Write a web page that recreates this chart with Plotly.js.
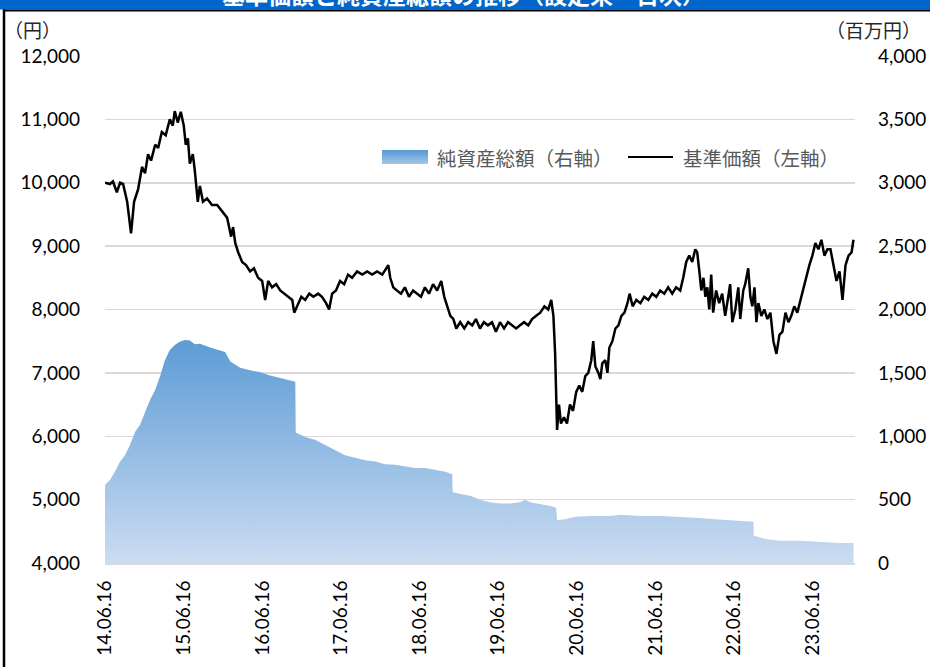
<!DOCTYPE html>
<html><head><meta charset="utf-8">
<script src="https://cdn.plot.ly/plotly-3.0.1.min.js"></script>
<style>html,body{margin:0;padding:0;background:#fff;}#chart{width:930px;height:667px;}</style>
</head><body><div id="chart"></div>
<script>
// 基準価額 (left axis, 円)
const navDates = ["2014-06-16","2014-07-09","2014-07-23","2014-08-10","2014-08-25","2014-09-08","2014-09-27","2014-10-15","2014-10-29","2014-11-17","2014-12-05","2014-12-19","2015-01-02","2015-01-16","2015-02-04","2015-02-18","2015-03-07","2015-03-25","2015-04-13","2015-04-27","2015-05-06","2015-05-20","2015-06-03","2015-06-17","2015-06-26","2015-07-06","2015-07-15","2015-07-29","2015-08-07","2015-08-21","2015-08-31","2015-09-14","2015-10-03","2015-10-26","2015-11-19","2015-12-12","2016-01-04","2016-01-23","2016-02-01","2016-02-11","2016-02-25","2016-03-14","2016-04-01","2016-04-20","2016-05-08","2016-05-27","2016-06-15","2016-06-29","2016-07-13","2016-07-31","2016-08-19","2016-09-07","2016-09-25","2016-10-14","2016-11-02","2016-11-11","2016-11-25","2016-12-14","2017-01-01","2017-01-20","2017-02-08","2017-03-02","2017-03-20","2017-04-08","2017-04-22","2017-05-06","2017-05-24","2017-06-12","2017-07-01","2017-07-19","2017-08-07","2017-08-30","2017-09-23","2017-10-16","2017-11-08","2017-12-01","2017-12-25","2018-01-12","2018-01-22","2018-01-31","2018-02-14","2018-03-03","2018-03-22","2018-04-09","2018-04-28","2018-05-17","2018-06-04","2018-06-23","2018-07-11","2018-07-30","2018-08-18","2018-09-06","2018-09-25","2018-10-09","2018-10-23","2018-11-06","2018-11-20","2018-12-04","2018-12-22","2019-01-10","2019-01-28","2019-02-16","2019-03-05","2019-03-24","2019-04-11","2019-04-30","2019-05-19","2019-06-06","2019-06-25","2019-07-14","2019-08-01","2019-08-20","2019-09-08","2019-09-26","2019-10-15","2019-11-03","2019-11-21","2019-12-10","2019-12-29","2020-01-17","2020-02-04","2020-02-18","2020-02-28","2020-03-07","2020-03-16","2020-03-25","2020-04-03","2020-04-17","2020-05-01","2020-05-15","2020-05-29","2020-06-13","2020-06-27","2020-07-11","2020-07-25","2020-08-08","2020-08-22","2020-08-31","2020-09-10","2020-09-24","2020-10-03","2020-10-12","2020-10-26","2020-11-05","2020-11-14","2020-11-28","2020-12-12","2020-12-26","2021-01-09","2021-01-23","2021-02-06","2021-02-16","2021-03-02","2021-03-19","2021-04-07","2021-04-25","2021-05-14","2021-06-01","2021-06-20","2021-07-08","2021-07-27","2021-08-14","2021-09-02","2021-09-20","2021-10-09","2021-10-23","2021-11-06","2021-11-20","2021-12-04","2021-12-18","2021-12-27","2022-01-06","2022-01-15","2022-01-25","2022-02-03","2022-02-12","2022-02-21","2022-03-02","2022-03-11","2022-03-25","2022-04-08","2022-04-22","2022-05-06","2022-05-20","2022-05-29","2022-06-08","2022-06-22","2022-07-06","2022-07-15","2022-07-29","2022-08-07","2022-08-21","2022-08-31","2022-09-09","2022-09-19","2022-09-28","2022-10-07","2022-10-21","2022-11-04","2022-11-18","2022-12-02","2022-12-16","2022-12-30","2023-01-13","2023-01-27","2023-02-10","2023-02-24","2023-03-09","2023-03-23","2023-04-06","2023-04-20","2023-05-04","2023-05-18","2023-06-01","2023-06-15","2023-06-29","2023-07-13","2023-07-27","2023-08-10","2023-08-24","2023-09-07","2023-09-21","2023-10-05","2023-10-19","2023-11-02","2023-11-16","2023-11-30","2023-12-14","2023-12-23"];
const navValues = [10000,9980,10020,9850,10000,9980,9700,9200,9700,9900,10250,10150,10450,10350,10600,10550,10800,10750,11000,10900,11130,10950,11120,10900,10600,10700,10300,10450,10200,9700,9950,9700,9750,9650,9650,9550,9450,9150,9300,9050,8900,8750,8700,8600,8650,8500,8450,8150,8450,8350,8400,8300,8250,8200,8150,7950,8050,8200,8150,8250,8200,8250,8200,8100,8000,8250,8300,8450,8400,8550,8500,8600,8550,8600,8550,8600,8550,8650,8700,8500,8350,8300,8250,8350,8200,8300,8250,8200,8350,8250,8400,8300,8450,8200,8050,7900,7850,7700,7800,7700,7800,7750,7850,7700,7800,7750,7800,7650,7800,7700,7800,7750,7700,7750,7800,7750,7850,7900,7950,8050,8000,8150,7900,7300,6100,6500,6200,6300,6200,6500,6400,6700,6800,6700,6950,7000,7200,7500,7100,7000,6900,7150,7200,7000,7400,7500,7700,7750,7900,7950,8100,8250,8050,8150,8100,8200,8150,8250,8200,8300,8250,8350,8250,8350,8300,8500,8750,8850,8750,8950,8900,8600,8300,8500,8200,8350,8000,8550,7950,8300,8100,8250,7900,8200,8400,7800,8000,8350,7850,8300,8400,8650,8200,8050,8350,7800,8100,7900,8000,7850,7950,7500,7300,7600,7650,7950,7800,7900,8050,7950,8150,8300,8500,8700,8850,9050,8950,9100,8850,8950,8950,8700,8450,8600,8150,8700,8850,8900,9100];

// 純資産総額 (right axis, 百万円)
const assetDates = ["2014-06-16","2014-07-09","2014-08-01","2014-08-25","2014-09-17","2014-10-10","2014-11-03","2014-11-26","2014-12-19","2015-01-12","2015-02-04","2015-02-28","2015-03-21","2015-04-13","2015-05-06","2015-05-29","2015-06-22","2015-07-15","2015-08-07","2015-08-31","2015-10-17","2015-12-03","2015-12-26","2016-01-19","2016-03-05","2016-04-20","2016-06-06","2016-07-22","2016-09-07","2016-10-24","2016-11-16","2016-11-18","2017-01-01","2017-02-18","2017-04-03","2017-05-20","2017-07-05","2017-08-21","2017-10-07","2017-11-23","2018-01-08","2018-02-24","2018-04-09","2018-05-26","2018-07-11","2018-08-28","2018-10-14","2018-11-15","2018-11-17","2018-12-22","2019-02-07","2019-03-24","2019-05-09","2019-06-25","2019-08-10","2019-09-26","2019-10-20","2019-11-12","2019-12-29","2020-02-14","2020-03-12","2020-03-16","2020-04-23","2020-06-08","2020-08-17","2020-11-19","2021-01-04","2021-04-07","2021-07-08","2021-10-09","2022-01-10","2022-03-20","2022-05-29","2022-08-07","2022-09-14","2022-09-16","2022-11-08","2023-01-17","2023-04-20","2023-07-22","2023-10-23","2023-12-23"];
const assetValues = [615,655,720,800,850,930,1035,1090,1190,1290,1365,1480,1600,1680,1720,1745,1760,1755,1725,1730,1700,1680,1665,1590,1540,1520,1505,1480,1460,1445,1430,1030,995,970,930,890,850,830,810,800,780,775,760,750,750,735,720,700,560,545,530,500,480,470,470,480,500,480,465,450,435,340,345,365,370,370,380,370,370,365,355,345,340,330,325,215,190,175,175,165,158,158];

const tickDates = ["2014-06-16","2015-06-16","2016-06-16","2017-06-16","2018-06-16","2019-06-16","2020-06-16","2021-06-16","2022-06-16","2023-06-16"];
const tickLabels = ["14.06.16","15.06.16","16.06.16","17.06.16","18.06.16","19.06.16","20.06.16","21.06.16","22.06.16","23.06.16"];
const leftTicks = [4000,5000,6000,7000,8000,9000,10000,11000,12000];
const rightTicks = [0,500,1000,1500,2000,2500,3000,3500,4000];

const NUMFONT = "Lato, 'Liberation Sans', Arial, sans-serif";
const JPFONT = "'Noto Sans CJK JP', 'Noto Sans', sans-serif";

// plot area in pixels: x 105..855, y 56..563
const L = 105, R = 855, T = 56, B = 563;
const px = v => (v - L) / (R - L);
const py = v => (B - v) / (B - T);

const data = [
  {
    type: 'scatter', mode: 'lines', name: '純資産総額（右軸）',
    x: assetDates, y: assetValues, yaxis: 'y2',
    fill: 'tozeroy', line: {width: 0, color: '#5b9bd5'},
    fillgradient: {type: 'vertical', start: 0, stop: 1780,
      colorscale: [[0, '#cadcf1'], [1, '#5b9bd5']]},
    showlegend: false
  },
  {
    type: 'scatter', mode: 'lines', name: '基準価額（左軸）',
    x: navDates, y: navValues, yaxis: 'y',
    line: {width: 2.5, color: '#000000'},
    showlegend: false
  }
];

const shapes = [];
// title bar and frame
shapes.push({type: 'rect', xref: 'paper', yref: 'paper', x0: px(-5), x1: px(935), y0: py(9.5), y1: py(-5), fillcolor: '#0066cc', line: {width: 0}, layer: 'above'});
shapes.push({type: 'line', xref: 'paper', yref: 'paper', x0: px(3), x1: px(935), y0: py(10.5), y1: py(10.5), line: {width: 2, color: '#000'}, layer: 'above'});
shapes.push({type: 'line', xref: 'paper', yref: 'paper', x0: px(4), x1: px(4), y0: py(9.5), y1: py(670), line: {width: 2.5, color: '#000'}, layer: 'above'});
// legend swatch: gradient rectangle
const swCols = ['#5b9bd5','#65a1d8','#70a8db','#7bafde','#86b6e1','#91bde4','#9cc4e7'];
for (let i = 0; i < swCols.length; i++) {
  shapes.push({type: 'rect', xref: 'paper', yref: 'paper', x0: px(382), x1: px(428), y0: py(150 + 2*i + 2), y1: py(150 + 2*i), fillcolor: swCols[i], line: {width: 0}, layer: 'above'});
}
// legend swatch: line
shapes.push({type: 'line', xref: 'paper', yref: 'paper', x0: px(628), x1: px(673), y0: py(157), y1: py(157), line: {width: 2, color: '#000'}, layer: 'above'});

const annotations = [
  {xref: 'paper', yref: 'paper', x: px(463), y: py(-6), text: '<b>基準価額と純資産総額の推移（設定来・日次）</b>', showarrow: false, xanchor: 'center', yanchor: 'middle', font: {family: JPFONT, size: 23, color: '#ffffff'}},
  {xref: 'paper', yref: 'paper', x: px(32), y: py(30), text: '（円）', showarrow: false, xanchor: 'center', yanchor: 'middle', font: {family: JPFONT, size: 19, color: '#262626'}},
  {xref: 'paper', yref: 'paper', x: px(824), y: py(30), text: '（百万円）', showarrow: false, xanchor: 'left', yanchor: 'middle', font: {family: JPFONT, size: 19, color: '#262626'}},
  {xref: 'paper', yref: 'paper', x: px(435), y: py(157), text: '純資産総額（右軸）', showarrow: false, xanchor: 'left', yanchor: 'middle', font: {family: JPFONT, size: 19.5, color: '#595959'}},
  {xref: 'paper', yref: 'paper', x: px(681), y: py(157), text: '基準価額（左軸）', showarrow: false, xanchor: 'left', yanchor: 'middle', font: {family: JPFONT, size: 19.5, color: '#595959'}}
];

const layout = {
  width: 930, height: 667,
  margin: {l: L, r: 930 - R, t: T, b: 667 - B, pad: 0},
  paper_bgcolor: '#ffffff', plot_bgcolor: '#ffffff',
  showlegend: false,
  xaxis: {
    type: 'date', range: ['2014-06-16', '2023-12-30'],
    tickmode: 'array', tickvals: tickDates, ticktext: tickLabels,
    tickangle: -90, ticks: 'inside', ticklen: 5, tickwidth: 2, tickcolor: '#d9d9d9',
    showline: true, linecolor: '#d9d9d9', linewidth: 2,
    showgrid: false, zeroline: false, ticklabelstandoff: 8,
    tickfont: {family: NUMFONT, size: 19, color: '#000'}
  },
  yaxis: {
    range: [4000, 12000], tickmode: 'array', tickvals: leftTicks,
    tickformat: ',d', showgrid: true, gridcolor: '#d9d9d9', gridwidth: 1.5,
    zeroline: false, showline: false, ticks: '', ticklabelstandoff: 24,
    tickfont: {family: NUMFONT, size: 19, color: '#000'}
  },
  yaxis2: {
    range: [0, 4000], overlaying: 'y', side: 'right', tickmode: 'array', tickvals: rightTicks,
    tickformat: ',d', showgrid: false, zeroline: false, showline: false, ticks: '', ticklabelstandoff: 22,
    tickfont: {family: NUMFONT, size: 19, color: '#000'}
  },
  shapes: shapes,
  annotations: annotations
};

Plotly.newPlot('chart', data, layout, {staticPlot: true, displayModeBar: false});
</script>
</body></html>
